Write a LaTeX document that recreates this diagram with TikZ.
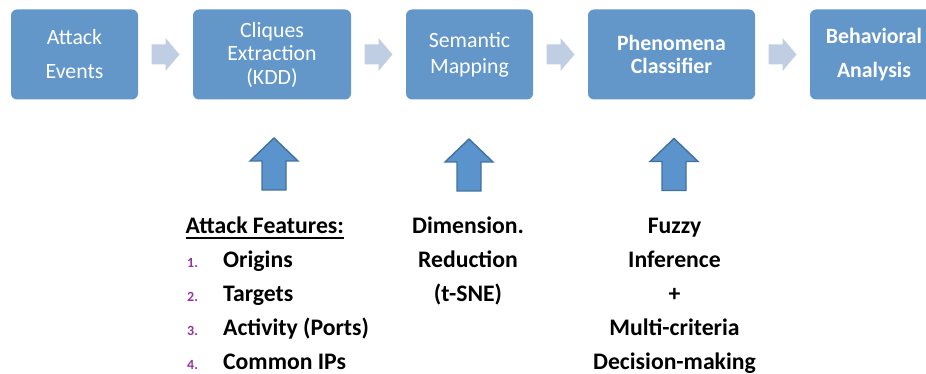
\documentclass[tikz,border=0pt]{standalone}
\usepackage{fontspec}
\setmainfont{Carlito}
\usetikzlibrary{calc}
\definecolor{boxblue}{RGB}{99,151,201}
\definecolor{chevgrey}{RGB}{192,206,228}
\definecolor{upfill}{RGB}{91,148,205}
\definecolor{upline}{RGB}{65,113,156}
\definecolor{numpurple}{RGB}{150,50,160}
\newcommand\stagefont[1]{\fontsize{21.8}{#1}\selectfont}
\newcommand\listfont{\fontsize{23.7}{28}\selectfont\bfseries}
\newcommand\numfont{\fontsize{14}{16}\selectfont\bfseries}
\begin{document}
\begin{tikzpicture}[x=1pt,y=-1pt,
  stage/.style={fill=boxblue, rounded corners=6pt, text=white, align=center,
                inner sep=0pt, minimum height=90pt},
  chev/.style={fill=chevgrey},
  uparrow/.style={fill=upfill, draw=upline, line width=1.4pt, line join=miter},
  listitem/.style={anchor=base west, font=\listfont, inner sep=0pt},
  listnum/.style={anchor=base west, font=\numfont, text=numpurple, inner sep=0pt},
  coltext/.style={anchor=base, font=\listfont, inner sep=0pt}]
\useasboundingbox (0,0) rectangle (926,374);

% pipeline stages
\node[stage, minimum width=127pt, font=\stagefont{34}] (events) at (74.5,54.5) {Attack\\Events};
\node[stage, minimum width=158pt, font=\stagefont{23.5}] (cliques) at (272,54.5) {Cliques\\Extraction\\(KDD)};
\node[stage, minimum width=127pt, font=\stagefont{26}] (mapping) at (469.5,54.5) {Semantic\\Mapping};
\node[stage, minimum width=167pt, font=\stagefont{23}\bfseries] (classifier) at (671.5,54.5) {Phenomena\\Classifier};
\node[stage, minimum width=128pt, font=\stagefont{34}\bfseries] (behavior) at (874,54.5) {Behavioral\\Analysis};

% chevrons between consecutive stages
\foreach \a/\b in {events/cliques, cliques/mapping, mapping/classifier, classifier/behavior}
  \fill[chev] ($(\a.east)!0.5!(\b.west)$) ++(-14,-10) -- ++(14,0) -- ++(0,-6.5)
    -- ++(14,16.5) -- ++(-14,16.5) -- ++(0,-6.5) -- ++(-14,0) -- cycle;

% block arrows feeding the stages from below
\coordinate (up1) at (274,190);
\coordinate (up2) at (469,191);
\coordinate (up3) at (674,190.5);
\foreach \c in {up1, up2, up3}
  \draw[uparrow] (\c) ++(-12,0) -- ++(0,-29) -- ++(-12,0) -- ++(24,-23)
    -- ++(24,23) -- ++(-12,0) -- ++(0,29) -- cycle;

% attack features list
\node[listitem] (feat) at (185.5,233.5) {Attack Features:};
\draw[line width=1.8pt] ($(feat.base west)+(0,4.6)$) -- ($(feat.base east)+(0,4.6)$);
\node[listnum] (n1) at (187,267.5) {1.};
\node[listnum] (n2) at (187,301.5) {2.};
\node[listnum] (n3) at (187,335.5) {3.};
\node[listnum] (n4) at (187,369.5) {4.};
\node[listitem] (f1) at (223,267.5) {Origins};
\node[listitem] (f2) at (223,301.5) {Targets};
\node[listitem] (f3) at (223,335.5) {Activity (Ports)};
\node[listitem] (f4) at (223,369.5) {Common IPs};

% dimension reduction
\node[coltext] (d1) at (468,233.5) {Dimension.};
\node[coltext] (d2) at (468,267.5) {Reduction};
\node[coltext] (d3) at (468,301.5) {(t-SNE)};

% classification methods
\node[coltext] (c1) at (674.5,233.5) {Fuzzy};
\node[coltext] (c2) at (674.5,267.5) {Inference};
\node[coltext] (c3) at (674.5,301.5) {+};
\node[coltext] (c4) at (674.5,335.5) {Multi-criteria};
\node[coltext] (c5) at (674.5,369.5) {Decision-making};
\end{tikzpicture}
\end{document}
